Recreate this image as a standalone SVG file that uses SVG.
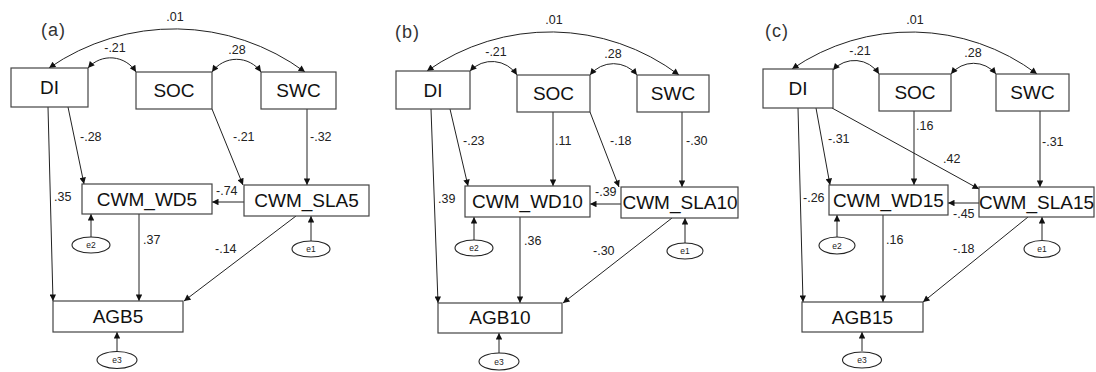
<svg xmlns="http://www.w3.org/2000/svg" width="1096" height="372" viewBox="0 0 1096 372">
<style>
.box{fill:#fff;stroke:#444;stroke-width:1.2}
.err{fill:#fff;stroke:#222;stroke-width:1.1}
.lbl{font-family:"Liberation Sans",Arial,sans-serif;font-size:19px;fill:#111;text-anchor:middle}
.el{font-family:"Liberation Sans",Arial,sans-serif;font-size:8.5px;fill:#222;text-anchor:middle}
.num{font-family:"Liberation Sans",Arial,sans-serif;font-size:12.5px;fill:#222}
.mid{text-anchor:middle}
.pan{font-family:"Liberation Sans",Arial,sans-serif;font-size:18px;fill:#333;letter-spacing:1px}
.c{fill:none;stroke:#222;stroke-width:1;marker-end:url(#ah)}
.d{fill:none;stroke:#222;stroke-width:1;marker-end:url(#ah);marker-start:url(#ah)}
</style>
<defs>
<marker id="ah" viewBox="0 0 10 10" refX="10" refY="5" markerWidth="10" markerHeight="6.5" markerUnits="userSpaceOnUse" orient="auto-start-reverse">
<path d="M0,0 L10,5 L0,10 z" fill="#111"/>
</marker>
</defs>

<!-- ===== connectors ===== -->
<g id="connectors">
<!-- panel a -->
<path class="d" d="M49,68 A220,220 0 0 1 305,72"/>
<path class="d" d="M88,68 A30,30 0 0 1 136,72"/>
<path class="d" d="M212,72 A30,30 0 0 1 261,72"/>
<path class="c" d="M68,107 L84,184"/>
<path class="c" d="M212,109 L243,185"/>
<path class="c" d="M307,109 L307,185"/>
<path class="c" d="M48,107 L53,301"/>
<path class="c" d="M244,202 L212,202"/>
<path class="c" d="M139,214 L139,301"/>
<path class="c" d="M296,216 L184,301"/>
<path class="c" d="M91,237 L91,214"/>
<path class="c" d="M311,241 L311,216"/>
<path class="c" d="M117,352 L117,332"/>
<!-- panel b -->
<path class="d" d="M427,71 A214,214 0 0 1 679,75"/>
<path class="d" d="M470,71 A30,30 0 0 1 517,75"/>
<path class="d" d="M590,75 A30,30 0 0 1 637,75"/>
<path class="c" d="M450,109 L468,186"/>
<path class="c" d="M553,112 L553,186"/>
<path class="c" d="M590,112 L619,187"/>
<path class="c" d="M682,112 L682,187"/>
<path class="c" d="M431,109 L438,303"/>
<path class="c" d="M621,204 L590,204"/>
<path class="c" d="M520,217 L520,303"/>
<path class="c" d="M672,218 L563,303"/>
<path class="c" d="M474,240 L474,217"/>
<path class="c" d="M685,243 L685,218"/>
<path class="c" d="M499,353 L499,333"/>
<!-- panel c -->
<path class="d" d="M792,69 A210,210 0 0 1 1037,74"/>
<path class="d" d="M833,70 A29,29 0 0 1 879,74"/>
<path class="d" d="M951,74 A29,29 0 0 1 996,74"/>
<path class="c" d="M816,108 L830,185"/>
<path class="c" d="M914,111 L914,185"/>
<path class="c" d="M832,108 L979,189"/>
<path class="c" d="M1040,111 L1040,187"/>
<path class="c" d="M798,108 L803,302"/>
<path class="c" d="M979,203 L948,203"/>
<path class="c" d="M883,215 L883,302"/>
<path class="c" d="M1028,217 L923,302"/>
<path class="c" d="M837,237 L837,215"/>
<path class="c" d="M1042,240 L1042,217"/>
<path class="c" d="M862,351 L862,332"/>
</g>

<!-- ===== coefficient labels ===== -->
<g id="labels">
<text class="pan" x="41" y="36">(a)</text>
<text class="num mid" x="175" y="21">.01</text>
<text class="num mid" x="115" y="52">-.21</text>
<text class="num mid" x="237" y="54">.28</text>
<text class="num" x="80" y="141">-.28</text>
<text class="num" x="233" y="141">-.21</text>
<text class="num" x="310" y="141">-.32</text>
<text class="num" x="54" y="201">.35</text>
<text class="num" x="216" y="195">-.74</text>
<text class="num" x="143" y="244">.37</text>
<text class="num" x="215" y="253">-.14</text>

<text class="pan" x="395" y="38">(b)</text>
<text class="num mid" x="554" y="24">.01</text>
<text class="num mid" x="496" y="56">-.21</text>
<text class="num mid" x="613" y="58">.28</text>
<text class="num" x="463" y="145">-.23</text>
<text class="num" x="555" y="145">.11</text>
<text class="num" x="610" y="145">-.18</text>
<text class="num" x="686" y="145">-.30</text>
<text class="num" x="438" y="203">.39</text>
<text class="num" x="595" y="196">-.39</text>
<text class="num" x="524" y="245">.36</text>
<text class="num" x="593" y="255">-.30</text>

<text class="pan" x="765" y="37">(c)</text>
<text class="num mid" x="915" y="24">.01</text>
<text class="num mid" x="860" y="55">-.21</text>
<text class="num mid" x="973" y="57">.28</text>
<text class="num" x="828" y="143">-.31</text>
<text class="num" x="916" y="130">.16</text>
<text class="num" x="943" y="163">.42</text>
<text class="num" x="1042" y="146">-.31</text>
<text class="num" x="803" y="202">-.26</text>
<text class="num" x="953" y="218">-.45</text>
<text class="num" x="886" y="244">.16</text>
<text class="num" x="953" y="253">-.18</text>
</g>

<!-- ===== panel a nodes ===== -->
<g id="a_DI"><rect class="box" x="11" y="68" width="77" height="39"/><text class="lbl" x="49.5" y="94">DI</text></g>
<g id="a_SOC"><rect class="box" x="136" y="72" width="76" height="37"/><text class="lbl" x="174" y="97">SOC</text></g>
<g id="a_SWC"><rect class="box" x="261" y="72" width="75" height="37"/><text class="lbl" x="298.5" y="97">SWC</text></g>
<g id="a_WD"><rect class="box" x="82" y="184" width="130" height="30"/><text class="lbl" x="147" y="206">CWM_WD5</text></g>
<g id="a_SLA"><rect class="box" x="244" y="185" width="125" height="31"/><text class="lbl" x="306.5" y="207">CWM_SLA5</text></g>
<g id="a_AGB"><rect class="box" x="53" y="301" width="130" height="31"/><text class="lbl" x="118" y="323">AGB5</text></g>
<g id="a_e2"><ellipse class="err" cx="91" cy="245" rx="19" ry="8"/><text class="el" x="91" y="248">e2</text></g>
<g id="a_e1"><ellipse class="err" cx="311" cy="249" rx="19" ry="8"/><text class="el" x="311" y="252">e1</text></g>
<g id="a_e3"><ellipse class="err" cx="117" cy="360" rx="20" ry="8.5"/><text class="el" x="117" y="363">e3</text></g>

<!-- ===== panel b nodes ===== -->
<g id="b_DI"><rect class="box" x="396" y="71" width="74" height="38"/><text class="lbl" x="433" y="97">DI</text></g>
<g id="b_SOC"><rect class="box" x="517" y="75" width="73" height="37"/><text class="lbl" x="553.5" y="100">SOC</text></g>
<g id="b_SWC"><rect class="box" x="637" y="75" width="72" height="37"/><text class="lbl" x="673" y="100">SWC</text></g>
<g id="b_WD"><rect class="box" x="465" y="186" width="125" height="31"/><text class="lbl" x="527.5" y="208">CWM_WD10</text></g>
<g id="b_SLA"><rect class="box" x="621" y="187" width="117" height="31"/><text class="lbl" x="680" y="209">CWM_SLA10</text></g>
<g id="b_AGB"><rect class="box" x="438" y="303" width="124" height="30"/><text class="lbl" x="500" y="324">AGB10</text></g>
<g id="b_e2"><ellipse class="err" cx="474" cy="248" rx="19" ry="8"/><text class="el" x="474" y="251">e2</text></g>
<g id="b_e1"><ellipse class="err" cx="685" cy="251" rx="18" ry="8"/><text class="el" x="685" y="254">e1</text></g>
<g id="b_e3"><ellipse class="err" cx="499" cy="361.5" rx="20" ry="8.5"/><text class="el" x="499" y="364.5">e3</text></g>

<!-- ===== panel c nodes ===== -->
<g id="c_DI"><rect class="box" x="763" y="69" width="70" height="39"/><text class="lbl" x="798" y="95">DI</text></g>
<g id="c_SOC"><rect class="box" x="879" y="74" width="72" height="37"/><text class="lbl" x="915" y="99">SOC</text></g>
<g id="c_SWC"><rect class="box" x="996" y="74" width="73" height="37"/><text class="lbl" x="1032.5" y="99">SWC</text></g>
<g id="c_WD"><rect class="box" x="829" y="185" width="119" height="30"/><text class="lbl" x="888.5" y="207">CWM_WD15</text></g>
<g id="c_SLA"><rect class="box" x="979" y="187" width="115" height="30"/><text class="lbl" x="1036.5" y="209">CWM_SLA15</text></g>
<g id="c_AGB"><rect class="box" x="802" y="302" width="121" height="30"/><text class="lbl" x="862.5" y="324">AGB15</text></g>
<g id="c_e2"><ellipse class="err" cx="837" cy="245.5" rx="18" ry="8.5"/><text class="el" x="837" y="248.5">e2</text></g>
<g id="c_e1"><ellipse class="err" cx="1042" cy="249" rx="18" ry="8.5"/><text class="el" x="1042" y="252">e1</text></g>
<g id="c_e3"><ellipse class="err" cx="862" cy="360" rx="19.5" ry="8"/><text class="el" x="862" y="363">e3</text></g>
</svg>
